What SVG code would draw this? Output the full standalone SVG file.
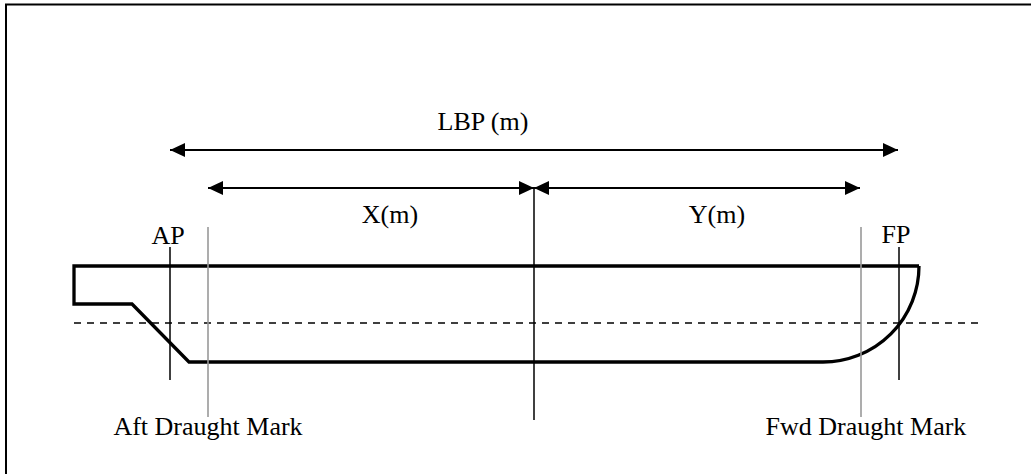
<svg xmlns="http://www.w3.org/2000/svg" width="1031" height="474" viewBox="0 0 1031 474">
<defs>
<style>
text{font-family:"Liberation Serif","Times New Roman",serif;font-size:26px;fill:#000}
.dim{stroke:#000;stroke-width:2.2;fill:none}
.ref{stroke:#000;stroke-width:1.5;fill:none}
.mark{stroke:#999;stroke-width:1.6;fill:none}
</style>
<marker id="ah" viewBox="0 0 15 14" refX="15" refY="7" markerWidth="15" markerHeight="14" markerUnits="userSpaceOnUse" orient="auto-start-reverse">
<path d="M0,0 L15,7 L0,14 Z" fill="#000"/>
</marker>
</defs>
<rect width="1031" height="474" fill="#fff"/>
<path d="M6,474 V4.5 H1031" fill="none" stroke="#000" stroke-width="2"/>
<g id="hull">
<path d="M919,266 L74,266 L74,304 L132,304 L189,362 L823,362 A96,96 0 0 0 919,266" fill="none" stroke="#000" stroke-width="3.3" stroke-linejoin="miter"/>
</g>
<g id="waterline">
<line x1="74" y1="323" x2="980" y2="323" stroke="#000" stroke-width="1.5" stroke-dasharray="7,6"/>
</g>
<g id="connectors">
<line class="dim" x1="170" y1="150" x2="898" y2="150" marker-start="url(#ah)" marker-end="url(#ah)"/>
<line class="dim" x1="208" y1="188" x2="534" y2="188" marker-start="url(#ah)" marker-end="url(#ah)"/>
<line class="dim" x1="534" y1="188" x2="860" y2="188" marker-start="url(#ah)" marker-end="url(#ah)"/>
</g>
<g id="ap">
<line class="ref" x1="170" y1="247" x2="170" y2="380"/>
<text x="168" y="244" text-anchor="middle">AP</text>
</g>
<g id="fp">
<line class="ref" x1="899" y1="247" x2="899" y2="380"/>
<text x="896" y="243" text-anchor="middle">FP</text>
</g>
<g id="midship">
<line class="ref" x1="534" y1="188" x2="534" y2="420"/>
</g>
<g id="aft-mark">
<line class="mark" x1="208" y1="227" x2="208" y2="417"/>
<text x="208" y="435" text-anchor="middle">Aft Draught Mark</text>
</g>
<g id="fwd-mark">
<line class="mark" x1="861" y1="227" x2="861" y2="417"/>
<text x="866" y="435" text-anchor="middle">Fwd Draught Mark</text>
</g>
<g id="labels">
<text x="483" y="130" text-anchor="middle">LBP (m)</text>
<text x="390" y="223" text-anchor="middle">X(m)</text>
<text x="717" y="223" text-anchor="middle">Y(m)</text>
</g>
</svg>
